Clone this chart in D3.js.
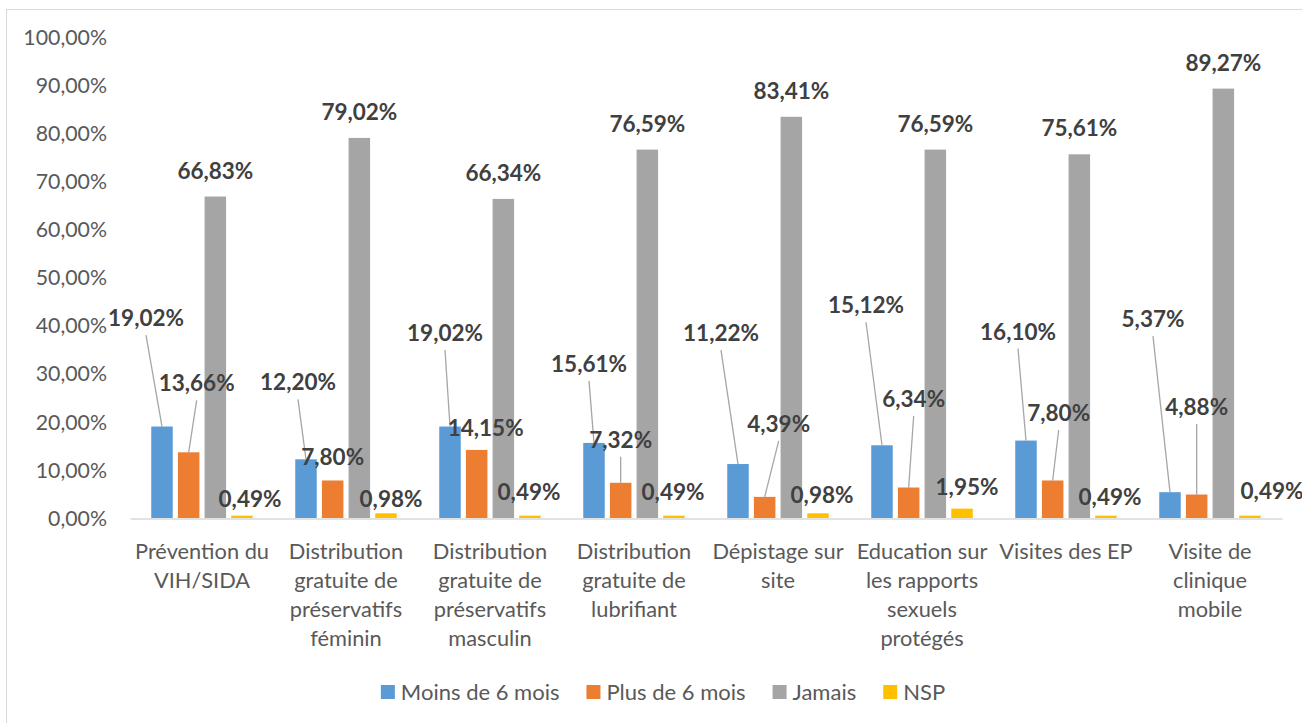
<!DOCTYPE html>
<html>
<head>
<meta charset="utf-8">
<script src="https://cdn.jsdelivr.net/npm/d3@7"></script>
<style>
  html, body { margin: 0; padding: 0; background: #ffffff; }
  svg { display: block; }
  text { font-family: Lato, "Open Sans", sans-serif; }
</style>
</head>
<body>
<svg id="chart" width="1302" height="723"></svg>
<script>
// ---------- data ----------
const categories = [
  "Prévention du\nVIH/SIDA",
  "Distribution\ngratuite de\npréservatifs\nféminin",
  "Distribution\ngratuite de\npréservatifs\nmasculin",
  "Distribution\ngratuite de\nlubrifiant",
  "Dépistage sur\nsite",
  "Education sur\nles rapports\nsexuels\nprotégés",
  "Visites des EP",
  "Visite de\nclinique\nmobile"
];
const seriesNames = ["Moins de 6 mois", "Plus de 6 mois", "Jamais", "NSP"];
const moinsDe6Mois = [19.02, 12.20, 19.02, 15.61, 11.22, 15.12, 16.10, 5.37];
const plusDe6Mois  = [13.66, 7.80, 14.15, 7.32, 4.39, 6.34, 7.80, 4.88];
const jamais       = [66.83, 79.02, 66.34, 76.59, 83.41, 76.59, 75.61, 89.27];
const nsp          = [0.49, 0.98, 0.49, 0.49, 0.98, 1.95, 0.49, 0.49];
const yTicks = [0, 10, 20, 30, 40, 50, 60, 70, 80, 90, 100];

// ---------- layout / style ----------
const colors = ["#5B9BD5", "#ED7D31", "#A5A5A5", "#FFC000"];
// data label placement (px offsets from bar top-centre) and leader-line flags
const labelDx = [
  [-16, -8, -5, -5, -17, -16, -8, -17],
  [8, 0, 9, 0, 14, 5, 6, 0],
  [0, 0, 0, 0, 0, 0, 0, 0],
  [8, 5, -1, -1, 4, 5, 4, 22]
];
const labelDy = [
  [-108.5, -77, -93.5, -79, -131, -140, -109, -173],
  [-69, -23.5, -22, -43, -73, -88.5, -67.5, -87.5],
  [-26, -26, -26, -26, -26, -26, -26, -26],
  [-16.6, -14.3, -23.6, -23.6, -18.3, -21.6, -18.6, -24.6]
];
const leader = [
  [1, 1, 1, 1, 1, 1, 1, 1],
  [1, 0, 0, 1, 1, 1, 1, 1],
  [0, 0, 0, 0, 0, 0, 0, 0],
  [0, 0, 0, 0, 0, 0, 0, 0]
];

const seriesValues = [moinsDe6Mois, plusDe6Mois, jamais, nsp];
const fmt = v => v.toFixed(2).replace(".", ",") + "%";

const svg = d3.select("#chart");

// chart border
svg.append("rect")
  .attr("x", 6.5).attr("y", 9.5)
  .attr("width", 1320).attr("height", 740)
  .attr("fill", "#ffffff")
  .attr("stroke", "#d9d9d9").attr("stroke-width", 1);

const plotLeft = 130, plotRight = 1282, plotBottom = 518, plotTop = 37;

const y = d3.scaleLinear().domain([0, 100]).range([plotBottom, plotTop]);
const x0 = d3.scaleBand().domain(d3.range(categories.length)).range([plotLeft, plotRight]).padding(0);
const x1 = d3.scaleBand().domain(d3.range(seriesNames.length))
  .range([21.25, x0.bandwidth() - 21.25]).paddingInner(0.194).paddingOuter(0);

// y axis (labels only)
const yAxis = d3.axisLeft(y).tickValues(yTicks).tickSize(0).tickPadding(0)
  .tickFormat(d => d.toFixed(2).replace(".", ",") + "%");
const gy = svg.append("g").attr("transform", "translate(107,0)").call(yAxis);
gy.select(".domain").remove();
gy.selectAll("text")
  .attr("font-family", "Lato, sans-serif")
  .attr("font-size", 21.3)
  .attr("fill", "#595959")
  .attr("dy", "0.34em");

// x axis baseline
const xAxis = d3.axisBottom(x0).tickSize(0).tickFormat("");
const gx = svg.append("g").attr("transform", `translate(0,${plotBottom + 0.5})`).call(xAxis);
gx.select(".domain").attr("stroke", "#d9d9d9").attr("stroke-width", 1.5);

// category labels
categories.forEach((c, i) => {
  const lines = c.split("\n");
  const t = svg.append("text")
    .attr("text-anchor", "middle")
    .attr("font-size", 21.8)
    .attr("fill", "#595959");
  lines.forEach((ln, k) => {
    t.append("tspan")
      .attr("x", x0(i) + x0.bandwidth() / 2)
      .attr("y", 559 + k * 29)
      .text(ln);
  });
});

// bars
const groups = svg.append("g").selectAll("g")
  .data(categories.map((c, i) => i))
  .join("g")
  .attr("transform", i => `translate(${x0(i)},0)`);

groups.selectAll("rect")
  .data(i => seriesValues.map((arr, s) => ({ s, i, v: arr[i] })))
  .join("rect")
  .attr("x", d => x1(d.s))
  .attr("width", x1.bandwidth())
  .attr("y", d => y(d.v))
  .attr("height", d => y(0) - y(d.v))
  .attr("fill", d => colors[d.s]);

// data labels + leader lines
const labelLayer = svg.append("g");
seriesValues.forEach((arr, s) => {
  arr.forEach((v, i) => {
    const bx = x0(i) + x1(s) + x1.bandwidth() / 2;
    const by = y(v);
    const lx = bx + labelDx[s][i];
    const ly = by + labelDy[s][i];
    if (leader[s][i]) {
      labelLayer.append("line")
        .attr("x1", lx).attr("y1", ly + 17)
        .attr("x2", bx).attr("y2", by)
        .attr("stroke", "#a6a6a6").attr("stroke-width", 1.3);
    }
  });
});
seriesValues.forEach((arr, s) => {
  arr.forEach((v, i) => {
    const bx = x0(i) + x1(s) + x1.bandwidth() / 2;
    const by = y(v);
    labelLayer.append("text")
      .attr("x", bx + labelDx[s][i])
      .attr("y", by + labelDy[s][i] + 8)
      .attr("text-anchor", "middle")
      .attr("font-size", 22.5)
      .attr("font-weight", "bold")
      .attr("fill", "#404040")
      .text(fmt(v));
  });
});

// legend
const legend = svg.append("g");
const items = seriesNames.map((name, s) => {
  const g = legend.append("g");
  g.append("rect").attr("width", 14).attr("height", 14).attr("y", 685).attr("fill", colors[s]);
  const t = g.append("text").attr("x", 20).attr("y", 699.5)
    .attr("font-size", 22).attr("fill", "#595959").text(name);
  return { g, w: 20 + t.node().getComputedTextLength() };
});
const gap = 27;
const total = d3.sum(items, d => d.w) + gap * (items.length - 1);
let cx = 663 - total / 2;
items.forEach(it => {
  it.g.attr("transform", `translate(${cx},0)`);
  cx += it.w + gap;
});
</script>
</body>
</html>
